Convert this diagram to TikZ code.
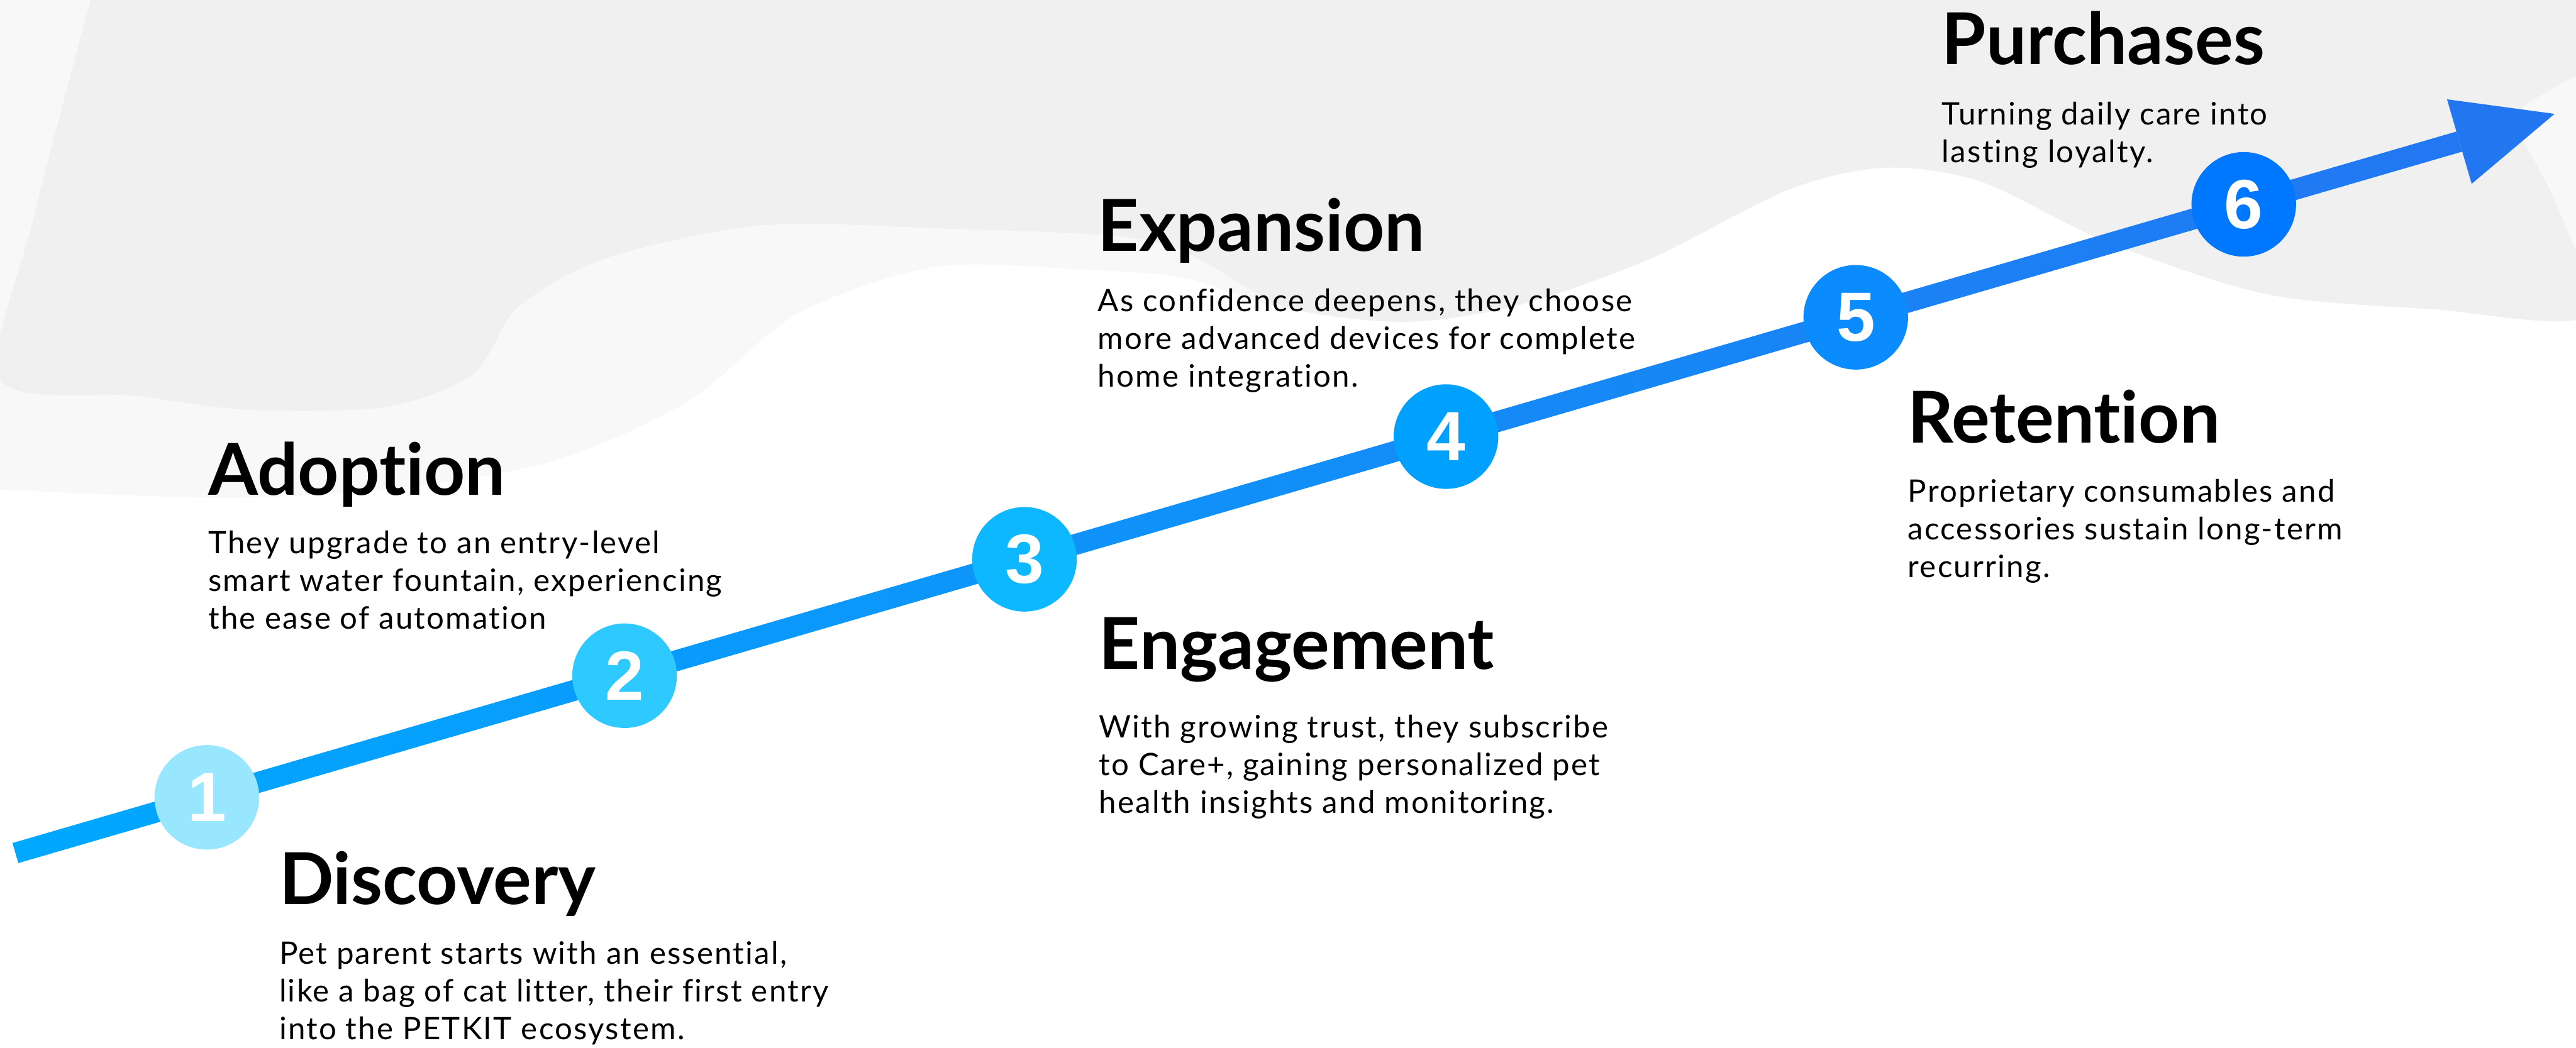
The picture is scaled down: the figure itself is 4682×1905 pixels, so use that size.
\documentclass[tikz,border=0pt]{standalone}
\usepackage{fontspec}
\setmainfont{Lato}[Ligatures=NoCommon]
\newfontfamily\digitfont{Liberation Sans}
\usetikzlibrary{calc}

\definecolor{bgdark}{HTML}{F0F0F0}
\definecolor{bglight}{HTML}{F8F8F8}
\definecolor{lineA}{HTML}{00A8FF}
\definecolor{lineB}{HTML}{2277F2}
\definecolor{headblue}{HTML}{2277F0}
\definecolor{c1}{HTML}{99E6FF}
\definecolor{c2}{HTML}{2ECAFF}
\definecolor{c3}{HTML}{0DB8FF}
\definecolor{c4}{HTML}{00A0FF}
\definecolor{c5}{HTML}{0A8CFF}
\definecolor{c6}{HTML}{0077FF}

\tikzset{
  stage/.style={circle, minimum size=1.9cm, inner sep=0pt, text=white,
    font=\digitfont\bfseries\fontsize{36}{36}\selectfont},
  heading/.style={anchor=base west, inner sep=0pt,
    font=\bfseries\fontsize{37}{40}\selectfont},
  % blurbs hang from the baseline of their last line
  blurb/.style={anchor=base west, inner sep=0pt, align=left,
    font=\fontsize{16}{19.5}\selectfont\addfontfeatures{LetterSpace=4.5}},
}

\begin{document}
\begin{tikzpicture}[x=0.01cm, y=-0.01cm]
    \useasboundingbox (0,0) rectangle (4682,1905);

    % grey backdrop, two layers
    \fill[bglight] (0,0) -- (4682,0) -- plot[smooth] coordinates {(4700,575) (4420,562) (4120,535)
        (3830,440) (3600,330) (3425,305) (3250,345) (3000,470) (2760,555) (2550,585) (2330,560)
        (2150,505) (1960,490) (1700,485) (1450,570) (1250,730) (1000,840) (700,890) (400,905) (0,890)} -- cycle;
    \fill[bgdark] plot[smooth] coordinates {(170,-20) (4490,-20) (4570,220) (4650,380) (4700,575)
        (4420,562) (4120,535) (3830,440) (3600,330) (3425,305) (3250,345) (3000,470) (2760,555)
        (2550,585) (2330,555) (2100,440) (1700,415) (1380,410) (1100,470) (940,560) (860,680)
        (700,740) (450,745) (250,720) (0,690) (60,400) (170,-20)} -- cycle;

    % the rising timeline
    \coordinate (start) at (28,1551);
    \coordinate (tip) at (4643,207);
    \coordinate (neck) at ($(start)!0.9625!(tip)$);
    \shade[left color=lineA, right color=lineB]
        ($(start)!0.19cm!90:(tip)$) -- ($(neck)!0.19cm!90:(tip)$)
        -- ($(neck)!0.19cm!-90:(tip)$) -- ($(start)!0.19cm!-90:(tip)$) -- cycle;
    \fill[headblue] (tip) -- ($(neck)!0.8cm!90:(tip)$) -- ($(neck)!0.8cm!-90:(tip)$) -- cycle;

    \foreach \i/\t in {1/0.0754, 2/0.2399, 3/0.3974, 4/0.5634, 5/0.7248, 6/0.8776} {
        \node[stage, fill=c\i] (s\i) at ($(start)!\t!(tip)$) {\i};
    }

    % stage texts
    \node[heading] (h1) at (507,1644) {Discovery};
    \node[blurb] (b1) at (507,1890) {Pet parent starts with an essential,\\like a bag of cat litter, their first entry\\into the PETKIT ecosystem.};

    \node[heading] (h2) at (378,900) {Adoption};
    \node[blurb] (b2) at (378,1144) {They upgrade to an entry-level\\smart water fountain, experiencing\\the ease of automation};

    \node[heading] (h3) at (1997,1217) {Engagement};
    \node[blurb] (b3) at (1997,1479) {With growing trust, they subscribe\\to Care+, gaining personalized pet\\health insights and monitoring.};

    \node[heading] (h4) at (1995,457) {Expansion};
    \node[blurb] (b4) at (1995,703) {As confidence deepens, they choose\\more advanced devices for complete\\home integration.};

    \node[heading] (h5) at (3467,805) {Retention};
    \node[blurb] (b5) at (3467,1050) {Proprietary consumables and\\accessories sustain long-term\\recurring.};

    \node[heading] (h6) at (3529,117) {Purchases};
    \node[blurb] (b6) at (3529,295) {Turning daily care into\\lasting loyalty.};
\end{tikzpicture}
\end{document}
